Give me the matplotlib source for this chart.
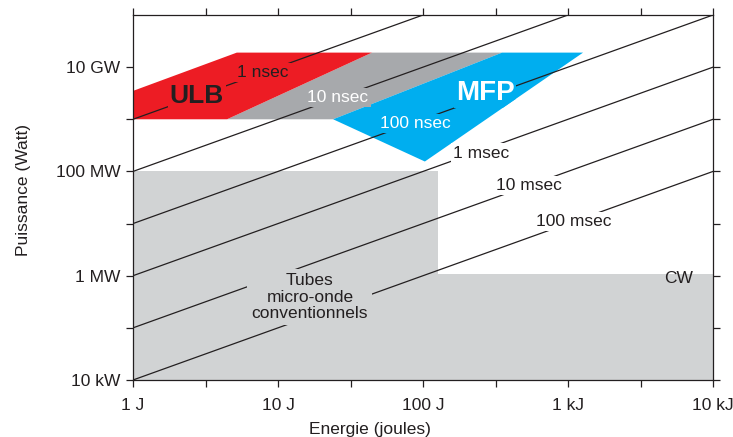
import numpy as np
import matplotlib
matplotlib.use("Agg")
import matplotlib.pyplot as plt

plt.rcParams["font.family"] = ["Liberation Sans", "DejaVu Sans"]

DARK = "#231F20"
RED = "#ED1C24"
MID_GRAY = "#A7A9AC"
BLUE = "#00AEEF"
LIGHT_GRAY = "#D1D3D4"

# pulse durations of the constant-time lines (s) and their labels
pulse_times = [1e-9, 1e-8, 1e-7, 1e-6, 1e-5, 1e-4]
pulse_labels = ["1 nsec", "10 nsec", "100 nsec", "1 msec", "10 msec", "100 msec"]
# label anchor (energy J, power W) for each line
label_energy = [7.9, 25.9, 88, 251, 538, 1100]
label_power = [7.9e9, 2.59e9, 8.2e8, 2.25e8, 5.38e7, 1.1e7]
label_color = [DARK, "white", "white", DARK, DARK, DARK]
label_bg = [RED, MID_GRAY, BLUE, "white", "white", "white"]

# regions (energy J, power W)
ulb_energy = [1, 5.2, 44.5, 4.45, 1]
ulb_power = [3.5e9, 1.9e10, 1.9e10, 1e9, 1e9]
gray_energy = [4.45, 44.5, 351, 24]
gray_power = [1e9, 1.9e10, 1.9e10, 1e9]
mfp_energy = [24, 351, 1270, 103]
mfp_power = [1e9, 1.9e10, 1.9e10, 1.55e8]
tubes_energy = [1, 127, 127, 1]
tubes_power = [1e4, 1e4, 1e8, 1e8]
cw_energy = [127, 1e4, 1e4, 127]
cw_power = [1e4, 1e4, 1.1e6, 1.1e6]

x_ticks = [1, 10, 100, 1000, 10000]
x_tick_labels = ["1 J", "10 J", "100 J", "1 kJ", "10 kJ"]
y_ticks = [1e4, 1e6, 1e8, 1e10]
y_tick_labels = ["10 kW", "1 MW", "100 MW", "10 GW"]

fig = plt.figure(figsize=(7.33, 4.37), dpi=100)
ax = fig.add_axes([133 / 733, 57 / 437, 580 / 733, 365 / 437])
ax.set_xscale("log")
ax.set_yscale("log")
ax.set_xlim(1, 1e4)
ax.set_ylim(1e4, 1e11)

ax.fill(tubes_energy, tubes_power, color=LIGHT_GRAY, lw=0, zorder=1)
ax.fill(cw_energy, cw_power, color=LIGHT_GRAY, lw=0, zorder=1)
ax.fill(gray_energy, gray_power, color=MID_GRAY, lw=0, zorder=1)
(ulb_patch,) = ax.fill(ulb_energy, ulb_power, color=RED, lw=0, zorder=1.1)
(mfp_patch,) = ax.fill(mfp_energy, mfp_power, color=BLUE, lw=0, zorder=1.2)

energy = np.array([1.0, 1e4])
for t in pulse_times:
    ax.plot(energy, energy / t, color=DARK, lw=0.9, zorder=2)

for lab, e, p, c, bg in zip(pulse_labels, label_energy, label_power, label_color, label_bg):
    ax.text(e, p, lab, ha="center", va="center", fontsize=12.5, color=c, zorder=3,
            bbox=dict(facecolor=bg, edgecolor="none", pad=1.5))

# region names: background box clipped to the region shape
ulb = ax.text(2.76, 2.8e9, "ULB", ha="center", va="center", fontsize=19,
              fontweight="bold", color=DARK, zorder=3, clip_on=True,
              bbox=dict(facecolor=RED, edgecolor="none", pad=1.5))
ulb.set_clip_path(ulb_patch)
mfp = ax.text(268, 3.2e9, "MFP", ha="center", va="center", fontsize=20,
              fontweight="bold", color="white", zorder=3, clip_on=True,
              bbox=dict(facecolor=BLUE, edgecolor="none", pad=1.5))
mfp.set_clip_path(mfp_patch)
ax.text(7300, 8.9e5, "CW", ha="right", va="center", fontsize=12.5, color=DARK, zorder=3)
ax.text(16.6, 3.9e5, "Tubes\nmicro-onde\nconventionnels", ha="center", va="center",
        fontsize=12.5, color=DARK, linespacing=1.1, zorder=3,
        bbox=dict(facecolor=LIGHT_GRAY, edgecolor="none", pad=3.0))

ax.xaxis.set_major_locator(matplotlib.ticker.FixedLocator(x_ticks))
ax.xaxis.set_major_formatter(matplotlib.ticker.FixedFormatter(x_tick_labels))
ax.xaxis.set_minor_locator(matplotlib.ticker.FixedLocator(
    [10 ** (k + 0.5) for k in range(4)]))
ax.xaxis.set_minor_formatter(matplotlib.ticker.NullFormatter())
ax.yaxis.set_major_locator(matplotlib.ticker.FixedLocator(y_ticks))
ax.yaxis.set_major_formatter(matplotlib.ticker.FixedFormatter(y_tick_labels))
ax.yaxis.set_minor_locator(matplotlib.ticker.FixedLocator([1e5, 1e7, 1e9]))
ax.yaxis.set_minor_formatter(matplotlib.ticker.NullFormatter())

for which in ("major", "minor"):
    ax.tick_params(which=which, direction="out", length=5, width=0.9, color=DARK,
                   top=True, right=True, labelsize=12.5, labelcolor=DARK)
ax.tick_params(axis="x", which="major", pad=8)
ax.tick_params(axis="y", which="major", pad=4)
for s in ax.spines.values():
    s.set_color(DARK)
    s.set_linewidth(0.9)
    s.set_zorder(4)

ax.set_xlabel("Energie (joules)", fontsize=12.5, color=DARK)
ax.xaxis.set_label_coords((370 - 133) / 580, -0.115)
ax.set_ylabel("Puissance (Watt)", fontsize=12.5, color=DARK)
ax.yaxis.set_label_coords(-(133 - 31) / 580, 0.52)

fig.savefig("out.png", dpi=100)
